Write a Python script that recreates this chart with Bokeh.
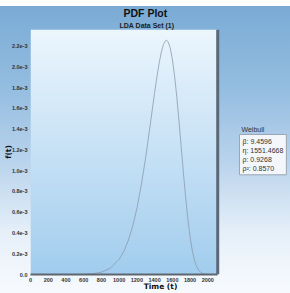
import numpy as np
from bokeh.plotting import figure
from bokeh.models import (Range1d, FixedTicker, CustomJSTickFormatter,
                          Title, Label, Span, InlineStyleSheet)
from bokeh.embed import file_html
from bokeh.resources import INLINE

# ---- data (Weibull PDF, LDA Data Set (1)) ----
time_t = [0, 500, 600, 700, 800, 900, 1000, 1050, 1100, 1150, 1200, 1250, 1300,
          1350, 1400, 1425, 1450, 1475, 1500, 1525, 1533, 1550, 1575, 1600, 1625,
          1650, 1675, 1700, 1725, 1750, 1775, 1800, 1825, 1850, 1875, 1900, 1925,
          1950, 1975, 2000, 2100]
pdf_f = [0, 4.2e-7, 1.97e-6, 7.26e-6, 2.24e-5, 6.05e-5, 1.461e-4, 2.187e-4,
         3.197e-4, 4.565e-4, 6.355e-4, 8.612e-4, 1.1321e-3, 1.4374e-3, 1.7514e-3,
         1.8985e-3, 2.0304e-3, 2.1390e-3, 2.2158e-3, 2.2535e-3, 2.2560e-3,
         2.2450e-3, 2.1862e-3, 2.0754e-3, 1.9156e-3, 1.7133e-3, 1.4797e-3,
         1.2296e-3, 9.790e-4, 7.430e-4, 5.347e-4, 3.632e-4, 2.311e-4, 1.371e-4,
         7.50e-5, 3.77e-5, 1.72e-5, 7.07e-6, 2.59e-6, 8.3e-7, 0]
x_ticks = [0, 200, 400, 600, 800, 1000, 1200, 1400, 1600, 1800, 2000]
y_ticks = [0.0, 0.0002, 0.0004, 0.0006, 0.0008, 0.0010, 0.0012, 0.0014, 0.0016,
           0.0018, 0.0020, 0.0022]
legend_title = "Weibull"
legend_lines = ["β: 9.4596", "η: 1551.4668", "ρ: 0.9268", "ρ²: 0.8570"]
title_text = "PDF Plot"
subtitle_text = "LDA Data Set (1)"
x_label = "Time (t)"
y_label = "f(t)"

X_START, X_END = 0, 2112      # plot area
X_TOTAL = 2933                # frame extends under the legend area on the right
Y_START, Y_END = 0, 0.00236

p = figure(width=290, height=293, output_backend="svg", toolbar_location=None,
           x_range=Range1d(X_START, X_TOTAL), y_range=Range1d(Y_START, Y_END),
           min_border_left=29, min_border_right=0, min_border_top=29,
           min_border_bottom=16)
p.title = None
p.border_fill_color = None
p.background_fill_color = None
p.outline_line_color = None
p.stylesheets = [InlineStyleSheet(css=""":host {
  background: linear-gradient(to bottom, #ffffff 0px, #ffffff 6px, #7aabd5 6px,
              #94bde0 30%, #b9d3ec 55%, #e6f0f9 80%, #f7fafd 100%);
}""")]

# plot area gradient background
rows = 256
top_c = np.array([0xec, 0xf6, 0xfd], dtype=float)
bot_c = np.array([0xa2, 0xcd, 0xee], dtype=float)
img = np.empty((rows, 2), dtype=np.uint32)
view = img.view(dtype=np.uint8).reshape((rows, 2, 4))
for i in range(rows):
    t = i / (rows - 1)
    c = bot_c + (top_c - bot_c) * t
    view[i, :, 0] = int(c[0]); view[i, :, 1] = int(c[1]); view[i, :, 2] = int(c[2]); view[i, :, 3] = 255
p.image_rgba(image=[img], x=X_START, y=Y_START, dw=X_END - X_START, dh=Y_END - Y_START)

# grids
p.xgrid.ticker = FixedTicker(ticks=x_ticks)
p.ygrid.ticker = FixedTicker(ticks=y_ticks)
p.xgrid.grid_line_color = "white"
p.xgrid.grid_line_alpha = 0.55
p.ygrid.grid_line_color = "white"
p.ygrid.grid_line_alpha = 0.35
p.ygrid.cross_bounds = (X_START, X_END)

# curve
p.line(time_t, pdf_f, line_color="#8a9aae", line_width=0.8)

# right shadow of plot area
p.add_layout(Span(location=X_END, dimension="height", line_color="#5a6878", line_width=3))

# axes
tick_font = "Liberation Sans"
p.xaxis.ticker = FixedTicker(ticks=x_ticks)
p.yaxis.ticker = FixedTicker(ticks=y_ticks)
p.xaxis.bounds = (X_START, X_END)
p.yaxis.formatter = CustomJSTickFormatter(code="""
  if (Math.abs(tick) < 1e-12) return "0.0";
  return (tick*1000).toFixed(1) + "e-3";
""")
for ax in (p.xaxis[0], p.yaxis[0]):
    ax.major_label_text_font = tick_font
    ax.major_label_text_font_size = "5.5px"
    ax.major_label_text_font_style = "bold"
    ax.major_label_text_color = "#333333"
    ax.major_tick_line_color = None
    ax.minor_tick_line_color = None
    ax.major_tick_out = 0
    ax.major_tick_in = 0
    ax.minor_tick_out = 0
    ax.minor_tick_in = 0
    ax.axis_label_text_font = "DejaVu Sans"
    ax.axis_label_text_font_style = "bold"
    ax.axis_label_text_font_size = "7.5px"
    ax.axis_label_text_color = "#111111"
p.yaxis.major_label_standoff = 3
p.yaxis.axis_label_standoff = -4
p.xaxis.major_label_standoff = 3
p.xaxis.axis_label_standoff = -3
p.xaxis.axis_label = x_label
p.yaxis.axis_label = y_label
p.xaxis.axis_line_color = "#5f6670"
p.xaxis.axis_line_width = 2
p.yaxis.axis_line_color = None

# titles (subtitle first so it sits closest to the plot), centred on the canvas
p.add_layout(Title(text=subtitle_text, align="left", offset=89, text_font="Liberation Sans",
                   text_font_size="7px", text_font_style="bold", text_color="#222222",
                   standoff=2), "above")
p.add_layout(Title(text=title_text, align="left", offset=93, text_font="Liberation Sans",
                   text_font_size="10.5px", text_font_style="bold", text_color="#111111",
                   standoff=0), "above")

# legend box
p.add_layout(Label(x=211, y=145, x_units="screen", y_units="screen", text=legend_title,
                   text_font="Liberation Sans", text_font_size="7px", text_color="#333333",
                   text_baseline="middle"))
box_text = "\n".join(legend_lines)
p.add_layout(Label(x=211, y=138, x_units="screen", y_units="screen", text=box_text,
                   text_font="Liberation Sans", text_font_size="7px", text_color=None,
                   text_line_height=1.3, text_baseline="top",
                   background_fill_color="#8797a8", padding=3))
p.add_layout(Label(x=209, y=140, x_units="screen", y_units="screen", text=box_text,
                   text_font="Liberation Sans", text_font_size="7px", text_color="#333333",
                   text_line_height=1.3, text_baseline="top",
                   background_fill_color="#f3f7fb", border_line_color="#9aa6b2",
                   padding=3))

open("out.html", "w").write(file_html(p, INLINE))
